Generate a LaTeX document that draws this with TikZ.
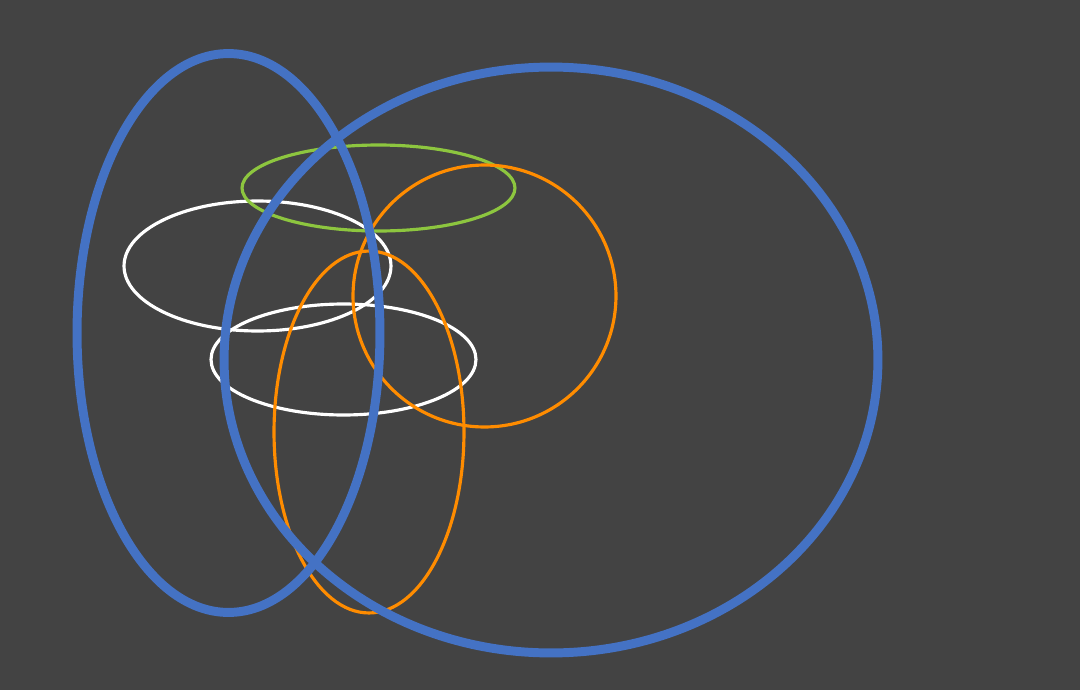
\documentclass[tikz,border=0pt]{standalone}
\usepackage{xcolor}
\usepackage{tikz}
\definecolor{slatebg}{RGB}{67,67,67}
\definecolor{setblue}{RGB}{68,114,196}
\definecolor{setgreen}{RGB}{141,198,63}
\definecolor{setorange}{RGB}{255,140,0}
\tikzset{
  bigset/.style={draw=setblue,line width=5.1pt},
  greenset/.style={draw=setgreen,line width=1.8pt},
  whiteset/.style={draw=white,line width=1.8pt},
  orangeset/.style={draw=setorange,line width=1.8pt}
}

\begin{document}
\begin{tikzpicture}[x=0.02cm,y=-0.02cm]
  % background and frame
  \fill[slatebg] (0,0) rectangle (1080,690);
  \useasboundingbox (0,0) rectangle (1080,690);
  % thin sets
  \draw[whiteset] (257.5,266) ellipse [x radius=2.67cm,y radius=1.30cm];
  \draw[whiteset] (343.5,359.5) ellipse [x radius=2.65cm,y radius=1.11cm];
  \draw[greenset] (378.5,188) ellipse [x radius=2.73cm,y radius=0.86cm];
  \draw[orangeset] (484.5,296) ellipse [x radius=2.63cm,y radius=2.62cm];
  \draw[orangeset] (369,432) ellipse [x radius=1.90cm,y radius=3.62cm];
  % thick sets on top
  \draw[bigset] (228.5,333) ellipse [x radius=3.03cm,y radius=5.59cm];
  \draw[bigset] (551,360) ellipse [x radius=6.54cm,y radius=5.86cm];
\end{tikzpicture}
\end{document}
